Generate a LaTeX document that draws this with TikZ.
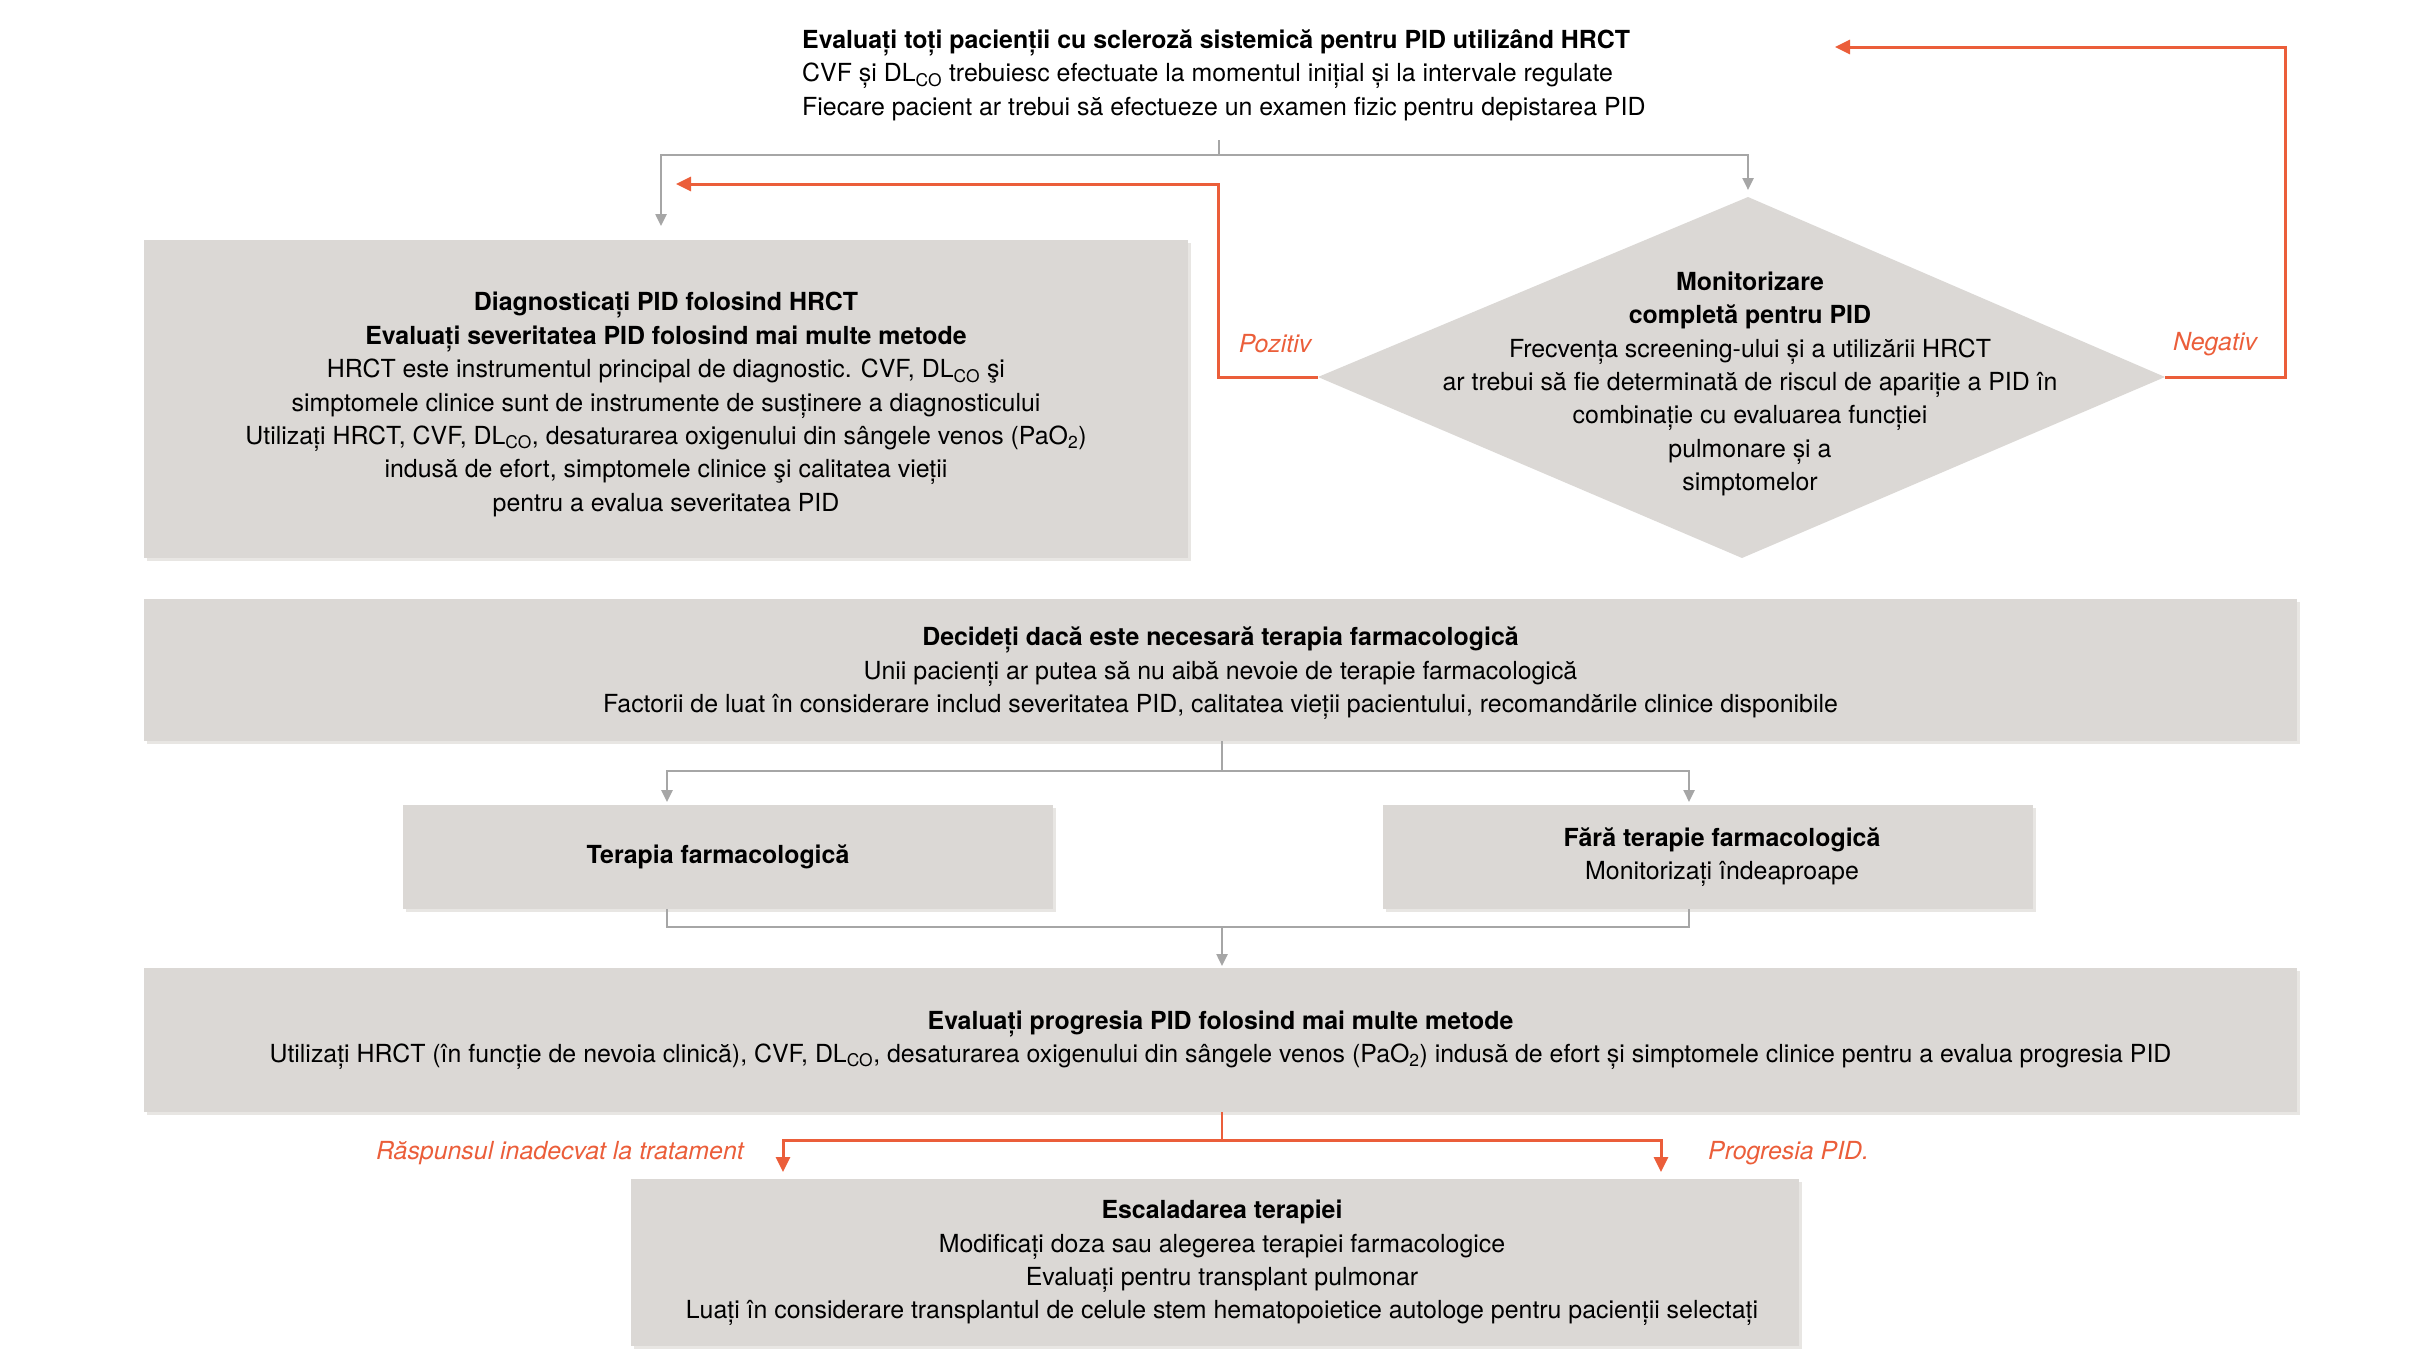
\documentclass[tikz,border=0pt]{standalone}
\usepackage{fontspec}
\setmainfont{TeX Gyre Heros}
\usetikzlibrary{arrows.meta,shadows}
\definecolor{boxgray}{HTML}{DBD8D5}
\definecolor{boxshade}{HTML}{E8E6E3}
\definecolor{lineg}{HTML}{A6A6A6}
\definecolor{orng}{HTML}{EB5E3A}
\tikzset{
  txt/.style={font=\fontsize{24.9}{33.4}\selectfont, align=center, inner sep=0pt},
  gbox/.style={fill=boxgray, draw=none, inner sep=0pt, drop shadow={shadow xshift=3pt, shadow yshift=-3pt, fill=boxshade, opacity=1}},
  gline/.style={draw=lineg, line width=2.5pt},
  garrow/.style={gline, -{Triangle[width=11pt,length=12pt]}},
  oline/.style={draw=orng, line width=3pt},
  oarrow/.style={oline, -{Triangle[width=14pt,length=15pt]}},
  olabel/.style={font=\fontsize{24.9}{30}\selectfont\itshape, text=orng, inner sep=0pt},
}
\begin{document}
\begin{tikzpicture}[x=1pt,y=-1pt]
\useasboundingbox (0,0) rectangle (2432,1368);

% top text
\node[txt, align=left, anchor=west] (t0) at (802,75) {\textbf{Evaluați toți pacienții cu scleroză sistemică pentru PID utilizând HRCT}\\
CVF și DL\textsubscript{CO} trebuiesc efectuate la momentul inițial și la intervale regulate\\
Fiecare pacient ar trebui să efectueze un examen fizic pentru depistarea PID};

% box 1
\node[gbox, minimum width=1044pt, minimum height=318pt] (b1) at (666,399) {};
\node[txt] (b1t) at (666,404.5) {\textbf{Diagnosticați PID folosind HRCT}\\
\textbf{Evaluați severitatea PID folosind mai multe metode}\\
HRCT este instrumentul principal de diagnostic. CVF, DL\textsubscript{CO} şi\\
simptomele clinice sunt de instrumente de susținere a diagnosticului\\
Utilizați HRCT, CVF, DL\textsubscript{CO}, desaturarea oxigenului din sângele venos (PaO\textsubscript{2})\\
indusă de efort, simptomele clinice şi calitatea vieții\\
pentru a evalua severitatea PID};

% diamond
\coordinate (dt) at (1748,197);
\coordinate (dr) at (2165,377);
\coordinate (db) at (1742,558);
\coordinate (dl) at (1318,377);
\fill[boxgray] (dt) -- (dr) -- (db) -- (dl) -- cycle;
\node[txt] (dtext) at (1750,384) {\textbf{Monitorizare}\\ \textbf{completă pentru PID}\\ Frecvența screening-ului și a utilizării HRCT\\ ar trebui să fie determinată de riscul de apariție a PID în\\ combinație cu evaluarea funcției\\ pulmonare și a\\ simptomelor};

% box 2
\node[gbox, minimum width=2153pt, minimum height=142pt] (b2) at (1220.5,670) {};
\node[txt] (b2t) at (1220.5,673.5) {\textbf{Decideți dacă este necesară terapia farmacologică}\\ Unii pacienți ar putea să nu aibă nevoie de terapie farmacologică\\ Factorii de luat în considerare includ severitatea PID, calitatea vieții pacientului, recomandările clinice disponibile};

% box 3,4
\node[gbox, minimum width=650pt, minimum height=104pt] (b3) at (728,857) {};
\node[txt] (b3t) at (718,857) {\textbf{Terapia farmacologică}};
\node[gbox, minimum width=650pt, minimum height=104pt] (b4) at (1708,857) {};
\node[txt] (b4t) at (1722,857) {\textbf{Fără terapie farmacologică}\\ Monitorizați îndeaproape};

% box 5
\node[gbox, minimum width=2153pt, minimum height=144pt] (b5) at (1220.5,1040) {};
\node[txt] (b5t) at (1220.5,1040) {\textbf{Evaluați progresia PID folosind mai multe metode}\\ Utilizați HRCT (în funcție de nevoia clinică), CVF, DL\textsubscript{CO}, desaturarea oxigenului din sângele venos (PaO\textsubscript{2}) indusă de efort și simptomele clinice pentru a evalua progresia PID};

% box 6
\node[gbox, minimum width=1168pt, minimum height=167pt] (b6) at (1215,1262.5) {};
\node[txt] (b6t) at (1222,1263) {\textbf{Escaladarea terapiei}\\ Modificați doza sau alegerea terapiei farmacologice\\ Evaluați pentru transplant pulmonar\\ Luați în considerare transplantul de celule stem hematopoietice autologe pentru pacienții selectați};

% coordinates for connectors
\coordinate (topstub) at (1219,140);
\coordinate (split1) at (1219,155);
\coordinate (a1) at (661,226);
\coordinate (ad) at (1748,190);
\coordinate (pzc) at (1218,377);
\coordinate (pzend) at (676,184);
\coordinate (ngc) at (2285,377);
\coordinate (ngend) at (1835,47);
\coordinate (split2) at (1222,771);
\coordinate (a3) at (667,802);
\coordinate (a4) at (1689,802);
\coordinate (j3) at (667,909);
\coordinate (j4) at (1689,909);
\coordinate (j3b) at (667,927);
\coordinate (j4b) at (1689,927);
\coordinate (jm) at (1222,927);
\coordinate (a5) at (1222,966);
\coordinate (split3) at (1222,1140);
\coordinate (a6l) at (783,1172);
\coordinate (a6r) at (1661,1172);

% gray connectors
\draw[gline, line width=2pt] (topstub) -- (split1);
\draw[garrow] (split1) -| (a1);
\draw[garrow] (split1) -| (ad);
\draw[gline, line width=2pt] (b2.south -| split2) -- (split2);
\draw[garrow] (split2) -| (a3);
\draw[garrow] (split2) -| (a4);
\draw[gline] (j3) -- (j3b) -- (j4b) -- (j4);
\draw[garrow] (jm) -- (a5);

% orange connectors
\draw[oarrow] (dl) -- (pzc) |- (pzend);
\draw[oarrow] (dr) -- (ngc) |- (ngend);
\draw[oline, line width=1.5pt] (b5.south -| split3) -- (split3);
\draw[oarrow] (split3) -| (a6l);
\draw[oarrow] (split3) -| (a6r);

% labels
\node[olabel] (lpoz) at (1275,344) {Pozitiv};
\node[olabel] (lneg) at (2215,344) {Negativ};
\node[olabel, anchor=east] (lras) at (744,1153) {Răspunsul inadecvat la tratament};
\node[olabel, anchor=west] (lprog) at (1708,1153) {Progresia PID.};
\end{tikzpicture}
\end{document}
